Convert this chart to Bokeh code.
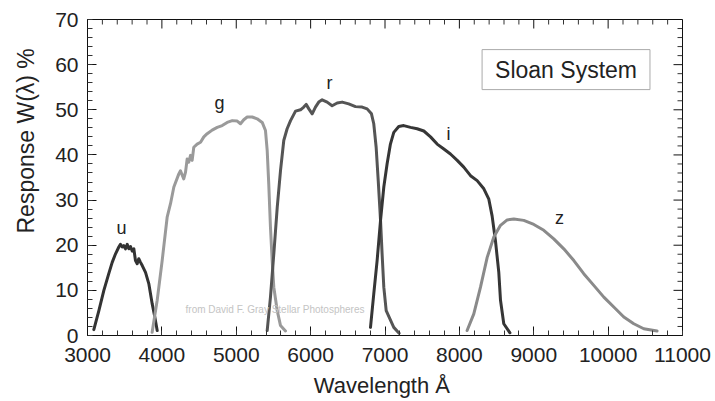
from bokeh.plotting import figure
from bokeh.models import Label, SingleIntervalTicker, Range1d, Title
from bokeh.embed import file_html
from bokeh.resources import INLINE

# ---- data (wavelength in Å, response in %) ----
u_wl = [3085, 3153, 3220, 3286, 3332, 3377, 3421, 3443, 3466, 3488, 3511, 3534, 3556,
        3578, 3601, 3623, 3645, 3668, 3689, 3713, 3736, 3780, 3824, 3870, 3905, 3937]
u_resp = [1.3, 5.5, 10.0, 13.7, 16.2, 18.1, 19.6, 20.2, 19.6, 19.9, 19.2, 20.2, 19.2,
          19.7, 18.7, 19.2, 16.6, 15.9, 17.0, 16.2, 15.5, 14.0, 11.5, 7.0, 4.1, 1.1]

g_wl = [3869, 3937, 4004, 4071, 4116, 4161, 4228, 4250, 4294, 4318, 4340, 4362, 4385,
        4407, 4429, 4474, 4520, 4564, 4609, 4676, 4744, 4811, 4878, 4946, 5013, 5057,
        5101, 5147, 5214, 5281, 5349, 5393, 5416, 5437, 5460, 5483, 5505, 5551, 5595, 5662]
g_resp = [0.7, 7.8, 16.6, 26.2, 29.2, 32.9, 35.8, 36.5, 34.7, 36.2, 39.1, 38.4, 39.9,
          38.8, 41.7, 42.4, 42.8, 44.0, 44.7, 45.5, 46.1, 46.5, 47.2, 47.6, 47.5, 46.9,
          47.8, 48.4, 48.4, 48.0, 47.2, 45.4, 41.0, 33.6, 24.0, 16.6, 10.7, 5.5, 2.2, 1.0]

r_wl = [5416, 5460, 5505, 5551, 5595, 5639, 5684, 5730, 5797, 5864, 5908, 5940, 5976,
        6021, 6065, 6109, 6155, 6222, 6289, 6357, 6424, 6512, 6603, 6693, 6760, 6818,
        6849, 6881, 6909, 6940, 6961, 6984, 7016, 7118, 7190]
r_resp = [1.1, 8.5, 18.1, 28.4, 36.5, 43.2, 45.8, 47.6, 49.7, 50.0, 50.6, 51.2, 50.2,
          49.1, 50.6, 51.7, 52.2, 51.7, 50.9, 51.5, 51.7, 51.3, 50.7, 50.6, 50.2, 49.1,
          46.9, 41.7, 34.3, 25.5, 18.1, 10.7, 5.5, 1.8, 0.5]

i_wl = [6805, 6849, 6894, 6940, 6984, 7028, 7073, 7118, 7185, 7252, 7343, 7432, 7522,
        7612, 7701, 7791, 7880, 7971, 8059, 8150, 8239, 8329, 8396, 8440, 8485, 8530,
        8553, 8597, 8680]
i_resp = [1.8, 9.2, 16.6, 25.5, 32.9, 38.0, 42.4, 45.0, 46.3, 46.5, 46.1, 45.8, 45.3,
          44.0, 42.4, 41.3, 40.2, 38.8, 37.3, 35.4, 34.3, 32.5, 30.2, 26.5, 21.0, 14.0,
          7.8, 2.6, 0.6]

z_wl = [8104, 8194, 8284, 8374, 8463, 8553, 8643, 8732, 8866, 9001, 9135, 9269, 9404,
        9539, 9672, 9807, 9942, 10076, 10211, 10345, 10479, 10658]
z_resp = [1.1, 4.8, 10.7, 17.3, 21.8, 24.4, 25.6, 25.8, 25.5, 24.6, 23.3, 21.4, 19.2,
          16.6, 13.7, 11.1, 8.5, 6.3, 4.1, 2.6, 1.5, 1.0]

band_names = ["u", "g", "r", "i", "z"]
band_label_x = [3457, 4775, 6254, 7854, 9346]
band_label_y = [23.9, 51.4, 56.0, 44.7, 26.1]

X_START, X_END, X_STEP, X_MINOR = 3000, 11000, 1000, 200
Y_START, Y_END, Y_STEP, Y_MINOR = 0, 70, 10, 2

FONT = "Liberation Sans"
AXIS_COL = "#111111"
TEXT_COL = "#222222"

p = figure(frame_width=595, frame_height=316,
           x_range=Range1d(X_START, X_END), y_range=Range1d(Y_START, Y_END),
           output_backend="svg", toolbar_location=None,
           min_border_left=87, min_border_right=33, min_border_top=19, min_border_bottom=66,
           background_fill_color="white", border_fill_color="white")
p.grid.visible = False
p.outline_line_color = AXIS_COL

p.xaxis.ticker = SingleIntervalTicker(interval=X_STEP, num_minor_ticks=5)
p.yaxis.ticker = SingleIntervalTicker(interval=Y_STEP, num_minor_ticks=5)

for ax in p.xaxis + p.yaxis:
    ax.major_tick_in = 9
    ax.major_tick_out = 0
    ax.minor_tick_in = 5
    ax.minor_tick_out = 0
    ax.axis_line_color = AXIS_COL
    ax.major_tick_line_color = AXIS_COL
    ax.minor_tick_line_color = "#333333"
    ax.major_label_text_font = FONT
    ax.major_label_text_font_size = "21px"
    ax.major_label_text_color = TEXT_COL
p.xaxis.major_label_standoff = 12
p.yaxis.major_label_standoff = 9
p.xaxis.axis_label = "Wavelength  Å"
p.xaxis.axis_label_text_font = FONT
p.xaxis.axis_label_text_font_size = "22px"
p.xaxis.axis_label_text_font_style = "normal"
p.xaxis.axis_label_text_color = TEXT_COL
p.xaxis.axis_label_standoff = 8

# y axis title, on the left side, shifted up like in the reference
p.add_layout(Title(text="Response W(λ) %", align="left", offset=102, standoff=23,
                   vertical_align="top",
                   text_font=FONT, text_font_size="23px", text_font_style="normal",
                   text_color=TEXT_COL), "left")

# mirrored inward ticks on the top and right edges of the frame
x_major = list(range(X_START, X_END + 1, X_STEP))
x_minor = [v for v in range(X_START, X_END + 1, X_MINOR) if v % X_STEP]
y_major = list(range(Y_START, Y_END + 1, Y_STEP))
y_minor = [v for v in range(Y_START, Y_END + 1, Y_MINOR) if v % Y_STEP]
px_x = 595 / (X_END - X_START)   # pixels per Å
px_y = 316 / (Y_END - Y_START)   # pixels per %
p.segment(x0=x_major, y0=Y_END, x1=x_major, y1=Y_END - 9 / px_y, line_color=AXIS_COL, line_width=1)
p.segment(x0=x_minor, y0=Y_END, x1=x_minor, y1=Y_END - 5 / px_y, line_color="#333333", line_width=1)
p.segment(x0=X_END, y0=y_major, x1=X_END - 9 / px_x, y1=y_major, line_color=AXIS_COL, line_width=1)
p.segment(x0=X_END, y0=y_minor, x1=X_END - 5 / px_x, y1=y_minor, line_color="#333333", line_width=1)

# curves
curves = [(u_wl, u_resp, "#333333"), (g_wl, g_resp, "#9a9a9a"), (r_wl, r_resp, "#555555"),
          (i_wl, i_resp, "#363636"), (z_wl, z_resp, "#8a8a8a")]
for wl, rs, col in curves:
    p.line(wl, rs, line_color=col, line_width=3, line_join="round", line_cap="round")

for name, lx, ly in zip(band_names, band_label_x, band_label_y):
    p.add_layout(Label(x=lx, y=ly, text=name, text_align="center", text_baseline="alphabetic",
                       text_font=FONT, text_font_size="18px", text_color=TEXT_COL))

# watermark
p.add_layout(Label(x=4318, y=5.8, text="from David F. Gray  Stellar Photospheres",
                   text_align="left", text_baseline="alphabetic",
                   text_font=FONT, text_font_size="10px", text_color="#c4c4c4"))

# boxed title
p.add_layout(Label(x=9434, y=58.9, text="Sloan System", text_align="center",
                   text_baseline="middle", text_font=FONT, text_font_size="23px",
                   text_color=TEXT_COL, padding=(13, 7),
                   border_line_color="#aaaaaa", border_line_width=1,
                   background_fill_color="white"))

open("out.html", "w").write(file_html(p, INLINE))
